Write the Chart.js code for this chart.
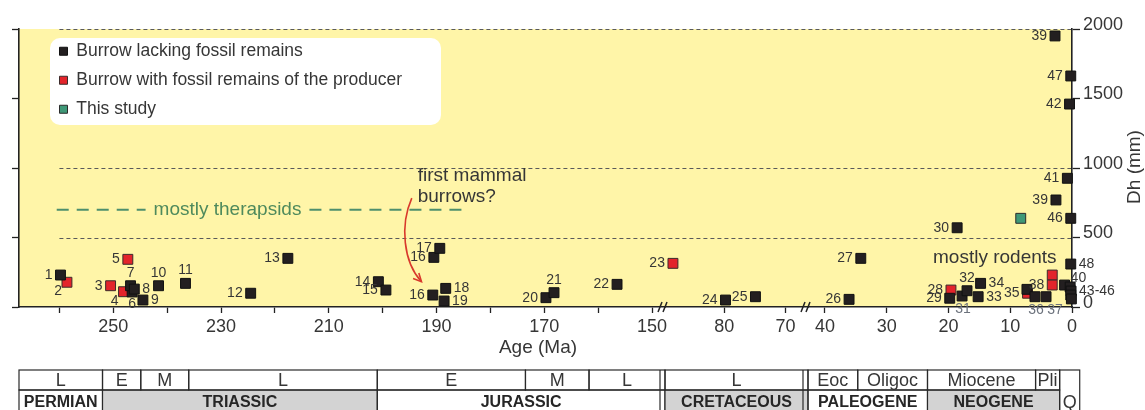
<!DOCTYPE html>
<html>
<head>
<meta charset="utf-8">
<script src="https://cdn.jsdelivr.net/npm/chart.js@4.4.0/dist/chart.umd.min.js"></script>
<style>
  html, body { margin: 0; padding: 0; background: #fff; }
</style>
</head>
<body>
<canvas id="burrowChart" width="1145" height="410"></canvas>
<script>
// burrow diameter (Dh, mm) plotted against age (Ma)

// burrows lacking fossil remains
var lackId  = ['1', '6', '7', '8', '9', '10', '11', '12', '13', '14', '15', '16', '16', '17', '18', '19',
               '20', '21', '22', '24', '25', '26', '27', '29', '30', '31', '32', '33', '34', '',
               '36', '37', '39', '39', '40', '41', '42', '', '43-46', '', '', '46', '47', '48'];
var lackAge = [259.8, 246.5, 246.8, 246.1, 244.5, 241.6, 236.6, 224.5, 217.6, 200.8, 199.4, 190.5, 190.7, 189.4, 188.3, 188.6,
               169.7, 168.2, 156.5, 79.8, 74.9, 36.1, 34.2, 19.8, 18.6, 17.8, 17.0, 15.2, 14.8, 7.3,
               6.0, 4.2, 2.75, 2.6, 1.2, 0.75, 0.4, 0.3, 0.15, 0.2, 0.1, 0.2, 0.2, 0.2];
var lackDh  = [230, 108, 153, 129, 50, 153, 170, 99, 350, 182, 122, 357, 86, 422, 134, 43,
               67, 103, 163, 50, 74, 55, 350, 63, 570, 79, 117, 74, 170, 127,
               74, 74, 1950, 770, 158, 926, 1460, 144, 115, 86, 58, 638, 1662, 309];
var lackPos = ['l', 'b', 't', 'r', 'r', 't', 't', 'l', 'l', 'l', 'l', 'l', 'l', 'l', 'r', 'r',
               'l', 't', 'l', 'l', 'l', 'l', 'l', 'l', 'l', 'B', 't', 'r', 'r', '',
               'B', 'Br', 'l', 'l', 'tr', 'l', 'l', '', 'r', '', '', 'l', 'l', 'r'];

// burrows with fossil remains of the producer
var withId  = ['2', '3', '4', '5', '23', '28', '35', '', '38'];
var withAge = [258.6, 250.5, 248.1, 247.3, 88.4, 19.6, 7.2, 3.2, 3.2];
var withDh  = [178, 153, 110, 343, 314, 122, 99, 230, 158];
var withPos = ['bl', 'l', 'bl', 'l', 'l', 'l', 'l', '', 'l'];

// this study
var studyAge = [8.3];
var studyDh  = [638];

// broken age axis: [oldest, youngest] of each piece
var ageSegments = [[267.5, 147.6], [89.7, 66.3], [42.75, 0]];
var segTicks = [[260, 250, 240, 230, 220, 210, 200, 190, 180, 170, 160, 150], [80, 70], [40, 30, 20, 10, 0]];
var segTickLabels = [[250, 230, 210, 190, 170, 150], [80, 70], [40, 30, 20, 10, 0]];

var dhTicks = [0, 500, 1000, 1500, 2000];
var refLines = [500, 1000, 2000];

// geological time scale under the plot
var epochNames = ['L', 'E', 'M', 'L', 'E', 'M', 'L', 'L', 'Eoc', 'Oligoc', 'Miocene', 'Pli'];
var epochFrom  = [267.5, 252, 244.9, 236, 201, 173.5, 161.7, 89.7, 42.75, 34.7, 23.4, 5.9];
var epochTo    = [252, 244.9, 236, 201, 173.5, 161.7, 147.6, 66.3, 34.7, 23.4, 5.9, 2.0];
var periodNames = ['PERMIAN', 'TRIASSIC', 'JURASSIC', 'CRETACEOUS', 'PALEOGENE', 'NEOGENE'];
var periodFrom  = [267.5, 252, 201, 89.7, 42.75, 23.4];
var periodTo    = [252, 201, 147.6, 66.3, 23.4, 2.0];
var periodGrey  = [false, true, false, true, false, true];
var quatFrom = 2.0, quatTo = -1.25;

var FONT = '"Liberation Sans", Arial, sans-serif';
var INK = '#363636';

function segOf(age) {
  for (var k = 0; k < ageSegments.length; k++) {
    if (age <= ageSegments[k][0] && age >= ageSegments[k][1] - 2) return k;
  }
  return ageSegments.length - 1;
}

var series = [
  { label: 'Burrow lacking fossil remains', age: lackAge, dh: lackDh, ids: lackId, pos: lackPos, fill: '#231f20', edge: '#111111' },
  { label: 'Burrow with fossil remains of the producer', age: withAge, dh: withDh, ids: withId, pos: withPos, fill: '#e3242b', edge: '#3b2b2b' },
  { label: 'This study', age: studyAge, dh: studyDh, ids: [''], pos: [''], fill: '#3f9877', edge: '#2b2b2b' }
];

var datasets = [];
series.forEach(function (s) {
  for (var k = 0; k < ageSegments.length; k++) {
    var pts = [];
    for (var i = 0; i < s.age.length; i++) {
      if (segOf(s.age[i]) === k) pts.push({ x: s.age[i], y: s.dh[i], id: s.ids[i], pos: s.pos[i] });
    }
    if (!pts.length) continue;
    datasets.push({
      label: s.label,
      data: pts,
      xAxisID: 'x' + k,
      yAxisID: 'y',
      pointStyle: 'rect',
      pointRadius: 7,
      backgroundColor: s.fill,
      borderColor: s.edge,
      borderWidth: 1,
      clip: false
    });
  }
});

var labelOffsets = {
  l: [-8, 0, 'right'], r: [8, 0, 'left'], t: [0, -13, 'center'], b: [0, 12, 'center'],
  B: [1, 13, 'center'], Br: [9, 13, 'center'], bl: [-5, 9, 'right'], tr: [6, -7, 'left']
};

function ageAxis(k, weight) {
  return {
    type: 'linear',
    position: 'bottom',
    stack: 'age',
    stackWeight: weight,
    reverse: true,
    min: ageSegments[k][1],
    max: ageSegments[k][0],
    afterBuildTicks: function (s) {
      s.ticks = segTicks[k].map(function (v) { return { value: v }; });
    },
    afterFit: function (s) { s.height = 103; },
    ticks: {
      autoSkip: false,
      maxRotation: 0,
      padding: 3,
      color: INK,
      font: { family: FONT, size: 18 },
      callback: function (v) { return segTickLabels[k].indexOf(v) >= 0 ? String(v) : ''; }
    },
    grid: { drawOnChartArea: false, tickLength: 6, color: '#222', tickWidth: 1.3 },
    border: { color: '#222', width: 1.6 }
  };
}

// yellow plot area, reference lines, annotations
var backdrop = {
  id: 'backdrop',
  beforeDraw: function (chart) {
    var ctx = chart.ctx, a = chart.chartArea;
    var x0 = chart.scales.x0, y = chart.scales.y;
    ctx.save();
    ctx.fillStyle = '#fff5a8';
    ctx.fillRect(a.left, a.top, a.right - a.left, a.bottom - a.top);

    ctx.strokeStyle = '#5a5a5a';
    ctx.lineWidth = 1;
    ctx.setLineDash([4, 3]);
    refLines.forEach(function (v) {
      var py = Math.round(y.getPixelForValue(v)) + 0.5;
      ctx.beginPath();
      ctx.moveTo(x0.getPixelForValue(260), py);
      ctx.lineTo(a.right, py);
      ctx.stroke();
    });

    // legend panel
    ctx.setLineDash([]);
    ctx.fillStyle = '#ffffff';
    ctx.beginPath();
    ctx.roundRect(50, 38, 391, 87, 10);
    ctx.fill();

    // mostly therapsids
    var ty = y.getPixelForValue(700);
    var tx = x0.getPixelForValue(228.8);
    ctx.font = '19px ' + FONT;
    var tw = ctx.measureText('mostly therapsids').width;
    ctx.strokeStyle = '#4e8f6c';
    ctx.lineWidth = 2;
    ctx.setLineDash([12, 8]);
    ctx.beginPath();
    ctx.moveTo(x0.getPixelForValue(260.5), ty);
    ctx.lineTo(tx - tw / 2 - 8, ty);
    ctx.stroke();
    ctx.beginPath();
    ctx.moveTo(tx + tw / 2 + 8, ty);
    ctx.lineTo(x0.getPixelForValue(184), ty);
    ctx.stroke();
    ctx.setLineDash([]);
    ctx.fillStyle = '#4f8a5c';
    ctx.textAlign = 'center';
    ctx.textBaseline = 'middle';
    ctx.fillText('mostly therapsids', tx, ty);

    // first mammal burrows?
    ctx.fillStyle = INK;
    ctx.textAlign = 'left';
    ctx.fillText('first mammal', x0.getPixelForValue(193.5), y.getPixelForValue(945));
    ctx.fillText('burrows?', x0.getPixelForValue(193.5), y.getPixelForValue(790));

    var sx = x0.getPixelForValue(194.6), sy = y.getPixelForValue(783);
    var ex = x0.getPixelForValue(192.8), ey = y.getPixelForValue(182);
    var c1x = x0.getPixelForValue(196.8), c1y = y.getPixelForValue(590);
    var c2x = x0.getPixelForValue(196.2), c2y = y.getPixelForValue(324);
    ctx.strokeStyle = '#d8392c';
    ctx.lineWidth = 1.6;
    ctx.beginPath();
    ctx.moveTo(sx, sy);
    ctx.bezierCurveTo(c1x, c1y, c2x, c2y, ex, ey);
    ctx.stroke();
    var ang = Math.atan2(ey - c2y, ex - c2x);
    ctx.beginPath();
    ctx.moveTo(ex - 9 * Math.cos(ang - 0.45), ey - 9 * Math.sin(ang - 0.45));
    ctx.lineTo(ex, ey);
    ctx.lineTo(ex - 9 * Math.cos(ang + 0.45), ey - 9 * Math.sin(ang + 0.45));
    ctx.stroke();

    // mostly rodents
    ctx.fillStyle = INK;
    ctx.textAlign = 'center';
    ctx.fillText('mostly rodents', chart.scales.x2.getPixelForValue(12.5), y.getPixelForValue(352));
    ctx.restore();
  }
};

// number next to each burrow
var pointLabels = {
  id: 'pointLabels',
  afterDatasetsDraw: function (chart) {
    var ctx = chart.ctx;
    ctx.save();
    ctx.font = '14px ' + FONT;
    ctx.textBaseline = 'middle';
    chart.data.datasets.forEach(function (ds, di) {
      var meta = chart.getDatasetMeta(di);
      meta.data.forEach(function (el, i) {
        var d = ds.data[i];
        if (!d.id) return;
        var off = labelOffsets[d.pos] || labelOffsets.l;
        ctx.fillStyle = d.pos.charAt(0) === 'B' ? '#6c727c' : INK;
        ctx.textAlign = off[2];
        ctx.fillText(d.id, el.x + off[0], el.y + off[1]);
      });
    });
    ctx.restore();
  }
};

function cellText(ctx, text, x1, x2, yc, size, weight) {
  var s = size;
  ctx.font = weight + ' ' + s + 'px ' + FONT;
  while (ctx.measureText(text).width > x2 - x1 - 3 && s > 9) {
    s -= 1;
    ctx.font = weight + ' ' + s + 'px ' + FONT;
  }
  ctx.fillText(text, (x1 + x2) / 2, yc);
}

// axis breaks, titles and time scale
var extras = {
  id: 'extras',
  afterDraw: function (chart) {
    var ctx = chart.ctx, a = chart.chartArea;
    var segScales = [chart.scales.x0, chart.scales.x1, chart.scales.x2];
    ctx.save();

    // axis breaks
    ctx.strokeStyle = '#222';
    ctx.lineWidth = 1.5;
    [segScales[0].right, segScales[1].right].forEach(function (bx) {
      [-5, 0].forEach(function (dx) {
        ctx.beginPath();
        ctx.moveTo(bx + dx - 2, a.bottom + 5);
        ctx.lineTo(bx + dx + 2, a.bottom - 5);
        ctx.stroke();
      });
    });

    ctx.fillStyle = INK;
    ctx.font = '19px ' + FONT;
    ctx.textAlign = 'center';
    ctx.textBaseline = 'middle';
    ctx.fillText('Age (Ma)', 538, 348);
    ctx.save();
    ctx.translate(1135, 167);
    ctx.rotate(-Math.PI / 2);
    ctx.fillText('Dh (mm)', 0, 0);
    ctx.restore();

    // time scale
    var top = 370, mid = 390, bot = 416;
    function span(from, to) {
      var k = segOf((from + to) / 2);
      return [segScales[k].getPixelForValue(from), segScales[k].getPixelForValue(to)];
    }
    ctx.strokeStyle = '#2a2a2a';
    ctx.lineWidth = 1.2;
    periodNames.forEach(function (n, i) {
      var s = span(periodFrom[i], periodTo[i]);
      if (periodGrey[i]) {
        ctx.fillStyle = '#d3d3d3';
        ctx.fillRect(s[0], mid, s[1] - s[0], bot - mid);
      }
      ctx.strokeRect(s[0], mid, s[1] - s[0], bot - mid);
      ctx.fillStyle = '#262626';
      cellText(ctx, n, s[0], s[1], 403, 16, 'bold');
    });
    epochNames.forEach(function (n, i) {
      var s = span(epochFrom[i], epochTo[i]);
      ctx.strokeRect(s[0], top, s[1] - s[0], mid - top);
      ctx.fillStyle = INK;
      cellText(ctx, n, s[0], s[1], 381, 18, 'normal');
    });
    var q = span(quatFrom, quatTo);
    ctx.strokeRect(q[0], top, q[1] - q[0], bot - top);
    ctx.fillStyle = INK;
    cellText(ctx, 'Q', q[0], q[1], 403, 18, 'normal');

    // double lines at the breaks
    [segScales[0].right, segScales[1].right].forEach(function (bx) {
      ctx.beginPath();
      ctx.moveTo(bx - 5, top);
      ctx.lineTo(bx - 5, bot);
      ctx.stroke();
    });
    ctx.restore();
  },
  afterLayout: function (chart) {
    // legend sits in the white panel at the top left
    var lg = chart.legend;
    if (lg) { lg.left = 48; lg.top = 31; }
  }
};

new Chart(document.getElementById('burrowChart'), {
  type: 'scatter',
  data: { datasets: datasets },
  options: {
    responsive: false,
    animation: false,
    events: [],
    devicePixelRatio: 1,
    layout: { padding: { top: 29, left: 0, right: 0, bottom: 0 } },
    scales: {
      x0: ageAxis(0, 646),
      x1: ageAxis(1, 143),
      x2: ageAxis(2, 264),
      y: {
        position: 'right',
        min: 0,
        max: 2000,
        afterBuildTicks: function (s) { s.ticks = dhTicks.map(function (v) { return { value: v }; }); },
        afterFit: function (s) { s.width = 73; },
        ticks: {
          padding: 3,
          labelOffset: -4,
          color: INK,
          font: { family: FONT, size: 18 },
          callback: function (v) { return String(v); }
        },
        grid: { drawOnChartArea: false, tickLength: 8, color: '#222', tickWidth: 1.3 },
        border: { color: '#222', width: 1.6 }
      },
      yl: {
        position: 'left',
        min: 0,
        max: 2000,
        afterBuildTicks: function (s) { s.ticks = dhTicks.map(function (v) { return { value: v }; }); },
        afterFit: function (s) { s.width = 19; },
        ticks: { callback: function () { return ''; } },
        grid: { drawOnChartArea: false, tickLength: 7, color: '#222', tickWidth: 1.3 },
        border: { color: '#222', width: 1.6 }
      }
    },
    plugins: {
      tooltip: { enabled: false },
      legend: {
        position: 'chartArea',
        align: 'start',
        labels: {
          boxWidth: 8,
          boxHeight: 8,
          padding: 11.5,
          color: INK,
          font: { family: FONT, size: 17.5 },
          filter: function (item, data) {
            for (var j = 0; j < data.datasets.length; j++) {
              if (data.datasets[j].label === item.text) return j === item.datasetIndex;
            }
            return true;
          }
        }
      }
    }
  },
  plugins: [backdrop, pointLabels, extras]
});
</script>
</body>
</html>
